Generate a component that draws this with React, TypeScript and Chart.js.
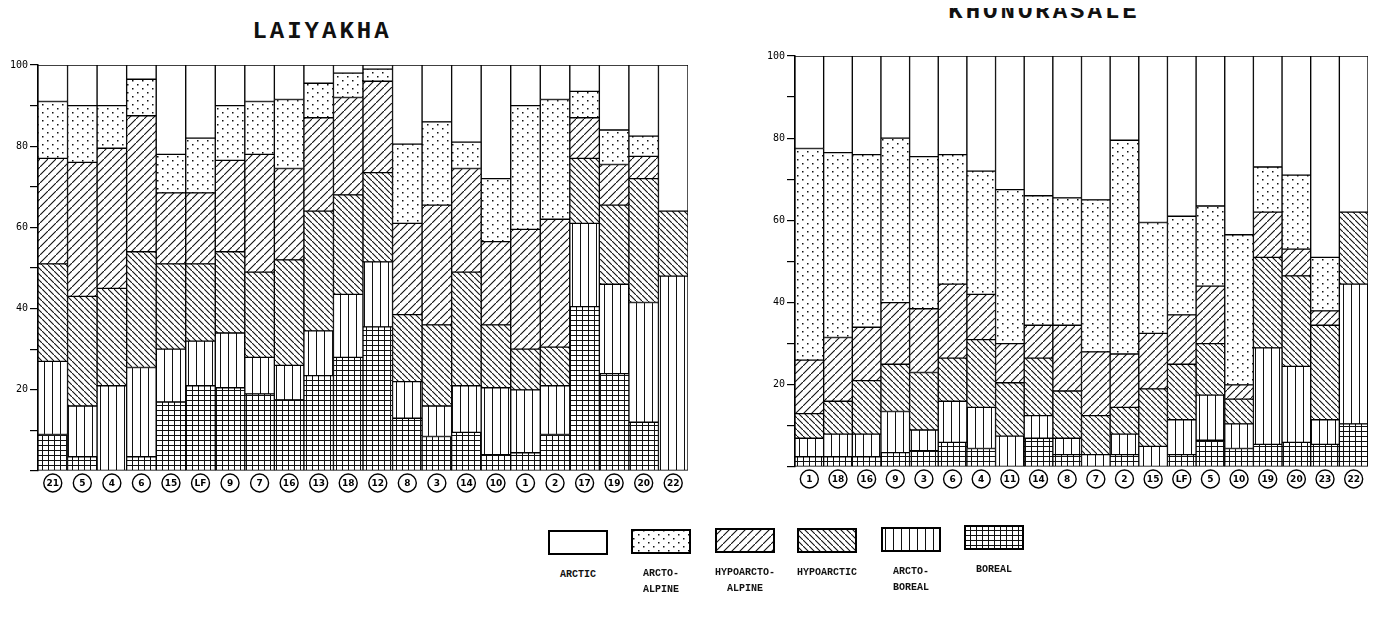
import React, { useEffect, useRef } from 'react';
import { Chart, registerables } from 'chart.js';

Chart.register(...registerables);

// ---------- DATA ----------
const SERIES_NAMES = ['Boreal', 'Arcto-boreal', 'Hypoarctic', 'Hypoarcto-alpine', 'Arcto-alpine', 'Arctic'];
const SERIES_PATTERNS = ['grid', 'vert', 'back', 'fwd', 'dots', 'blank'];

const LAIYAKHA_SITES = ['21', '5', '4', '6', '15', 'LF', '9', '7', '16', '13', '18', '12', '8', '3', '14', '10', '1', '2', '17', '19', '20', '22'];
const L_BOREAL = [9, 3.5, 0, 3.5, 17, 21, 20.5, 19, 17.5, 23.5, 28, 35.5, 13, 8.5, 9.5, 4, 4.5, 9, 40.5, 24, 12, 0];
const L_ARCTOBOREAL = [18, 12.5, 21, 22, 13, 11, 13.5, 9, 8.5, 11, 15.5, 16, 9, 7.5, 11.5, 16.5, 15.5, 12, 20.5, 22, 29.5, 48];
const L_HYPOARCTIC = [24, 27, 24, 28.5, 21, 19, 20, 21, 26, 29.5, 24.5, 22, 16.5, 20, 28, 15.5, 10, 9.5, 16, 19.5, 30.5, 16];
const L_HYPOARCTOALPINE = [26, 33, 34.5, 33.5, 17.5, 17.5, 22.5, 29, 22.5, 23, 24, 22.5, 22.5, 29.5, 25.5, 20.5, 29.5, 31.5, 10, 10, 5.5, 0];
const L_ARCTOALPINE = [14, 14, 10.5, 9, 9.5, 13.5, 13.5, 13, 17, 8.5, 6, 3, 19.5, 20.5, 6.5, 15.5, 30.5, 29.5, 6.5, 8.5, 5, 0];
const L_ARCTIC = [9, 10, 10, 3.5, 22, 18, 10, 9, 8.5, 4.5, 2, 1, 19.5, 14, 19, 28, 10, 8.5, 6.5, 16, 17.5, 36];

const KHONORASALE_SITES = ['1', '18', '16', '9', '3', '6', '4', '11', '14', '8', '7', '2', '15', 'LF', '5', '10', '19', '20', '23', '22'];
const K_BOREAL = [2.5, 2.5, 2.5, 3.5, 4, 6, 4.5, 0, 7, 3, 0, 3, 0, 3, 6.5, 4.5, 5.5, 6, 5.5, 10.5];
const K_ARCTOBOREAL = [4.5, 5.5, 5.5, 10, 5, 10, 10, 7.5, 5.5, 4, 3, 5, 5, 8.5, 11, 6, 23.5, 18.5, 6, 34];
const K_HYPOARCTIC = [6, 8, 13, 11.5, 14, 10.5, 16.5, 13, 14, 11.5, 9.5, 6.5, 14, 13.5, 12.5, 6, 22, 22, 23, 17.5];
const K_HYPOARCTOALPINE = [13, 15.5, 13, 15, 15.5, 18, 11, 9.5, 8, 16, 15.5, 13, 13.5, 12, 14, 3.5, 11, 6.5, 3.5, 0];
const K_ARCTOALPINE = [51.5, 45, 42, 40, 37, 31.5, 30, 37.5, 31.5, 31, 37, 52, 27, 24, 19.5, 36.5, 11, 18, 13, 0];
const K_ARCTIC = [22.5, 23.5, 24, 20, 24.5, 24, 28, 32.5, 34, 34.5, 35, 20.5, 40.5, 39, 36.5, 43.5, 27, 29, 49, 38];

const Y_TICK_LABELS = [20, 40, 60, 80, 100];

const LEGEND_ITEMS = [
  { pattern: 'blank', lines: ['ARCTIC'] },
  { pattern: 'dots', lines: ['ARCTO-', 'ALPINE'] },
  { pattern: 'fwd', lines: ['HYPOARCTO-', 'ALPINE'] },
  { pattern: 'back', lines: ['HYPOARCTIC'] },
  { pattern: 'vert', lines: ['ARCTO-', 'BOREAL'] },
  { pattern: 'grid', lines: ['BOREAL'] },
];

// ---------- PATTERNS ----------
function makePattern(kind: string): CanvasPattern | string {
  if (kind === 'blank') return '#ffffff';
  const c = document.createElement('canvas');
  let w = 8, h = 8;
  if (kind === 'dots') { w = 10; h = 8; }
  if (kind === 'fwd') { w = 8; h = 8; }
  if (kind === 'back') { w = 6; h = 6; }
  if (kind === 'vert') { w = 8; h = 8; }
  if (kind === 'grid') { w = 6; h = 5; }
  c.width = w; c.height = h;
  const ctx = c.getContext('2d')!;
  ctx.fillStyle = '#ffffff';
  ctx.fillRect(0, 0, w, h);
  ctx.fillStyle = '#111';
  ctx.strokeStyle = '#111';
  ctx.lineWidth = 1.1;
  if (kind === 'dots') {
    ctx.fillRect(2, 1, 1.5, 1.5);
    ctx.fillRect(7, 5, 1.5, 1.5);
  } else if (kind === 'fwd') {
    ctx.beginPath();
    ctx.moveTo(-1, h + 1); ctx.lineTo(w + 1, -1);
    ctx.moveTo(-2, 1); ctx.lineTo(1, -2);
    ctx.moveTo(w - 1, h + 2); ctx.lineTo(w + 2, h - 1);
    ctx.stroke();
  } else if (kind === 'back') {
    ctx.beginPath();
    ctx.moveTo(-1, -1); ctx.lineTo(w + 1, h + 1);
    ctx.moveTo(-2, h - 1); ctx.lineTo(1, h + 2);
    ctx.moveTo(w - 1, -2); ctx.lineTo(w + 2, 1);
    ctx.stroke();
  } else if (kind === 'vert') {
    ctx.fillRect(4, 0, 1, h);
  } else if (kind === 'grid') {
    ctx.fillRect(0, 0, 1, h);
    ctx.fillRect(0, 0, w, 1);
  }
  return ctx.createPattern(c, 'repeat') as CanvasPattern;
}

// ---------- PLUGIN: circled category labels ----------
const circleLabels = {
  id: 'circleLabels',
  afterDraw(chart: any) {
    const xs = chart.scales.x;
    const ctx = chart.ctx as CanvasRenderingContext2D;
    const cy = chart.chartArea.bottom + 12;
    ctx.save();
    (chart.data.labels as string[]).forEach((lab, i) => {
      const x = xs.getPixelForValue(i);
      ctx.beginPath();
      ctx.arc(x, cy, 9, 0, Math.PI * 2);
      ctx.lineWidth = 1.4;
      ctx.strokeStyle = '#000';
      ctx.fillStyle = '#fff';
      ctx.fill();
      ctx.stroke();
      ctx.fillStyle = '#000';
      ctx.font = 'bold 9px "DejaVu Sans"';
      ctx.textAlign = 'center';
      ctx.textBaseline = 'middle';
      ctx.fillText(lab, x, cy + 0.5);
    });
    ctx.restore();
  },
};

type StackProps = {
  labels: string[];
  series: number[][];
  width: number;
  height: number;
  yAxisWidth: number;
  padTop: number;
  padRight: number;
};

function StackChart({ labels, series, width, height, yAxisWidth, padTop, padRight }: StackProps) {
  const ref = useRef<HTMLCanvasElement | null>(null);
  useEffect(() => {
    if (!ref.current) return;
    const datasets = series.map((vals, i) => ({
      label: SERIES_NAMES[i],
      data: vals,
      backgroundColor: makePattern(SERIES_PATTERNS[i]) as any,
      borderColor: '#000',
      borderWidth: 1,
      borderSkipped: false as any,
      barPercentage: 1,
      categoryPercentage: 1,
    }));
    const chart = new Chart(ref.current, {
      type: 'bar',
      data: { labels, datasets },
      plugins: [circleLabels],
      options: {
        animation: false,
        responsive: false,
        maintainAspectRatio: false,
        layout: { padding: { top: padTop, right: padRight, left: 0, bottom: 0 } },
        plugins: { legend: { display: false }, tooltip: { enabled: false }, title: { display: false } },
        scales: {
          x: {
            stacked: true,
            ticks: { display: false },
            grid: { display: false },
            border: { display: false },
            afterFit: (s: any) => { s.height = 29; },
          },
          y: {
            stacked: true,
            min: 0,
            max: 100,
            ticks: {
              stepSize: 10,
              autoSkip: false,
              padding: 2,
              color: '#000',
              font: { family: '"DejaVu Sans Mono"', size: 10 },
              callback: (v: any) => (Y_TICK_LABELS.includes(Number(v)) ? String(v) : ''),
            },
            grid: { drawOnChartArea: false, drawTicks: true, tickLength: 8, color: '#000', lineWidth: 1.2 },
            border: { display: true, color: '#000', width: 1.5 },
            afterFit: (s: any) => { s.width = yAxisWidth; },
          },
        },
      },
    });
    return () => chart.destroy();
  }, []);
  return <canvas ref={ref} width={width} height={height} style={{ width, height, display: 'block' }} />;
}

function Swatch({ pattern }: { pattern: string }) {
  const ref = useRef<HTMLCanvasElement | null>(null);
  useEffect(() => {
    const c = ref.current;
    if (!c) return;
    const ctx = c.getContext('2d')!;
    ctx.fillStyle = makePattern(pattern) as any;
    ctx.fillRect(0, 0, c.width, c.height);
    ctx.strokeStyle = '#000';
    ctx.lineWidth = 2;
    ctx.strokeRect(1, 1, c.width - 2, c.height - 2);
  }, []);
  return <canvas ref={ref} width={60} height={25} style={{ display: 'block' }} />;
}

export default function App() {
  const monoTitle: React.CSSProperties = {
    position: 'absolute',
    fontFamily: '"Liberation Mono", monospace',
    fontWeight: 'bold',
    color: '#111',
    whiteSpace: 'nowrap',
    transform: 'translateX(-50%)',
    lineHeight: 1,
    fontSize: 24,
    letterSpacing: 3,
  };
  const legendX = [548, 631, 715, 797, 881, 964];
  const legendY = [530, 529, 528, 528, 527, 525];
  return (
    <div style={{ position: 'relative', width: 1364, height: 590, background: '#fff' }}>
      <div style={{ ...monoTitle, left: 322 - 8, top: 20 - 8 }}>LAIYAKHA</div>
      <div style={{ ...monoTitle, left: 1044 - 8, top: 0 - 8 }}>KHONORASALE</div>
      <div style={{ position: 'absolute', left: -8, top: 55 - 8 }}>
        <StackChart
          labels={LAIYAKHA_SITES}
          series={[L_BOREAL, L_ARCTOBOREAL, L_HYPOARCTIC, L_HYPOARCTOALPINE, L_ARCTOALPINE, L_ARCTIC]}
          width={700}
          height={445}
          yAxisWidth={38}
          padTop={10}
          padRight={12}
        />
      </div>
      <div style={{ position: 'absolute', left: 755 - 8, top: 46 - 8 }}>
        <StackChart
          labels={KHONORASALE_SITES}
          series={[K_BOREAL, K_ARCTOBOREAL, K_HYPOARCTIC, K_HYPOARCTOALPINE, K_ARCTOALPINE, K_ARCTIC]}
          width={625}
          height={450}
          yAxisWidth={40}
          padTop={10}
          padRight={12}
        />
      </div>
      {LEGEND_ITEMS.map((it, i) => (
        <div key={i} style={{ position: 'absolute', left: legendX[i] - 8, top: legendY[i] - 8, width: 60 }}>
          <Swatch pattern={it.pattern} />
          <div
            style={{
              marginTop: 12,
              textAlign: 'center',
              fontFamily: '"Liberation Mono", monospace',
              fontWeight: 'bold',
              fontSize: 10,
              lineHeight: '16px',
              color: '#111',
              whiteSpace: 'nowrap',
              marginLeft: -20,
              marginRight: -20,
            }}
          >
            {it.lines.map((l, j) => (
              <div key={j}>{l}</div>
            ))}
          </div>
        </div>
      ))}
    </div>
  );
}
